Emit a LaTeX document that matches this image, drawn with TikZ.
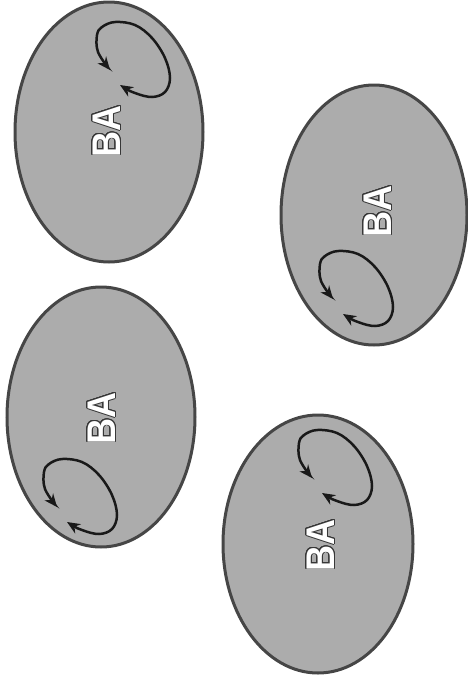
\documentclass[tikz,border=0pt]{standalone}
\usepackage{fontspec}
\setmainfont{Liberation Sans}
\usepackage{contour}
\contourlength{1.1pt}
\usetikzlibrary{shapes.geometric,arrows.meta}
\definecolor{cellfill}{RGB}{172,172,172}
\definecolor{celledge}{RGB}{70,70,70}
\definecolor{textedge}{RGB}{55,55,55}
\tikzset{
  cell/.style={ellipse, draw=celledge, fill=cellfill, line width=3pt, inner sep=0pt},
  ba/.style={rotate=90, text=white, font=\bfseries\fontsize{40}{40}\selectfont, inner sep=0pt},
  spin/.style={line width=2.5pt, black!90, {Stealth[length=13pt,width=11pt]}-{Stealth[length=13pt,width=11pt]}},
}
\newcommand{\batext}{\scalebox{0.9}[1]{\contour{textedge}{BA}}}
\begin{document}
\begin{tikzpicture}[x=1pt,y=-1pt]
\useasboundingbox (0,0) rectangle (468,681);
\node[cell, minimum width=188pt, minimum height=260pt] (c1) at (109,132) {};
\node[cell, minimum width=186pt, minimum height=260pt] (c2) at (374,215) {};
\node[cell, minimum width=188pt, minimum height=260pt] (c3) at (101,417) {};
\node[cell, minimum width=190pt, minimum height=258pt] (c4) at (318,544) {};
\node[ba] (t1) at (107,131) {\batext};
\node[ba] (t2) at (378,211) {\batext};
\node[ba] (t3) at (102,418) {\batext};
\node[ba] (t4) at (321,545) {\batext};
\foreach \dx/\dy in {0/0, 223/229, -53/437, 202/408}
  \draw[spin, shift={(\dx,\dy)}] plot[smooth, tension=0.6] coordinates {(120,85) (135,93) (152,97) (165,92) (170,78) (165,58) (152,38) (135,25) (115,22) (102,27) (97,35) (98,52) (110,70)};
\end{tikzpicture}
\end{document}
